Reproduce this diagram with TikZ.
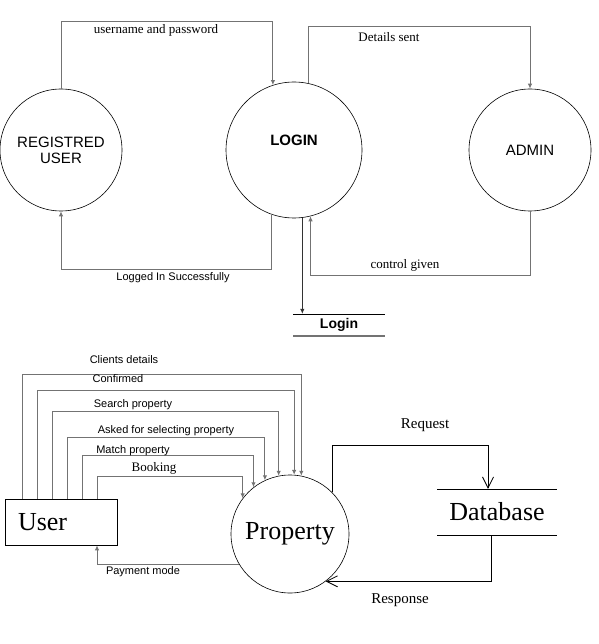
\documentclass[tikz,border=0pt]{standalone}
\usepackage{fontspec}
\setmainfont{Liberation Serif}
\setsansfont{Liberation Sans}
\usetikzlibrary{arrows.meta}

\begin{document}
\begin{tikzpicture}[x=1pt,y=-1pt,
    proc/.style={circle,draw,line width=.6pt,inner sep=0pt,align=center},
    flow/.style={draw=black!55,line width=1pt,-{Latex[length=5pt,width=4.5pt]}},
    dbflow/.style={draw,line width=.8pt,-{Straight Barb[length=11pt,width=11pt]}},
    lbl/.style={font=\sffamily\fontsize{11}{12}\selectfont},
    slbl/.style={font=\fontsize{13}{15}\selectfont},
    big/.style={font=\fontsize{26}{28}\selectfont}]
    \useasboundingbox (0,0) rectangle (598,644);

    % top level
    \node[proc,minimum size=122,font=\sffamily\fontsize{15}{16}\selectfont] (reg) at (61,150) {REGISTRED\\USER};
    \node[proc,minimum size=136,font=\sffamily\bfseries\fontsize{15}{16}\selectfont] (login) at (294,150) {\raisebox{4pt}[0pt][0pt]{LOGIN}};
    \node[proc,minimum size=122,font=\sffamily\fontsize{15}{16}\selectfont] (admin) at (530,150) {ADMIN};
    \node[minimum width=91,minimum height=22,inner sep=0pt,font=\sffamily\bfseries\fontsize{14}{15}\selectfont] (loginstore) at (339,325) {Login};
    \draw[line width=.6pt] (loginstore.north west) -- (loginstore.north east);
    \draw[black!55,line width=1.5pt] (loginstore.south west) -- (loginstore.south east);

    \draw[flow] (reg.north) -- ++(0,-67) -| (login.108);
    \draw[flow] (login.251) -- ++(0,55) -| (reg.south);
    \draw[flow] (login.78) -- ++(0,-57) -| (admin.north);
    \draw[flow] (admin.south) -- ++(0,64) -| (login.284);
    \draw[flow,draw=black!80,line width=.7pt] (login.277) -- (login.277 |- loginstore.north);

    \node[slbl] (l1) at (156,30) {username and password};
    \node[lbl] (l2) at (173,278) {Logged In Successfully};
    \node[slbl] (l3) at (389,37) {Details sent};
    \node[slbl] (l4) at (405,265) {control given};

    % property level
    \node[draw,line width=.6pt,minimum height=46,text width=86,inner xsep=13,align=left,big] (user) at (61,522) {User};
    \node[proc,minimum size=118,big] (prop) at (290,534) {Property};
    \node[minimum width=119,minimum height=46,inner sep=0pt,big] (db) at (497,512) {Database};
    \draw[line width=.6pt] (db.north west) -- (db.north east);
    \draw[line width=.6pt] (db.south west) -- (db.south east);

    \foreach \dx/\h/\ang in {-39/124/79, -24/108/86, -9/87/101, 6/61/115, 21/43/128, 36/22/143}
        \draw[flow] ([xshift=\dx]user.north) -- ++(0,-\h) -| (prop.\ang);
    \draw[flow] (prop.211) -| ([xshift=36]user.south);
    \draw[dbflow] (prop.45) -- ++(0,-47) -| ([xshift=-9]db.north);
    \draw[dbflow] ([xshift=-6]db.south) |- (prop.-53);

    \node[lbl] (c1) at (124,360) {Clients details};
    \node[lbl] (c2) at (118,379) {Confirmed};
    \node[lbl] (c3) at (133,405) {Search property};
    \node[lbl] (c4) at (166,431) {Asked for selecting property};
    \node[lbl] (c5) at (133,451) {Match property};
    \node[slbl] (c6) at (154,468) {Booking};
    \node[lbl] (c7) at (143,572) {Payment mode};
    \node[font=\fontsize{15}{17}\selectfont] (c8) at (425,425) {Request};
    \node[font=\fontsize{15}{17}\selectfont] (c9) at (400,600) {Response};
\end{tikzpicture}
\end{document}
